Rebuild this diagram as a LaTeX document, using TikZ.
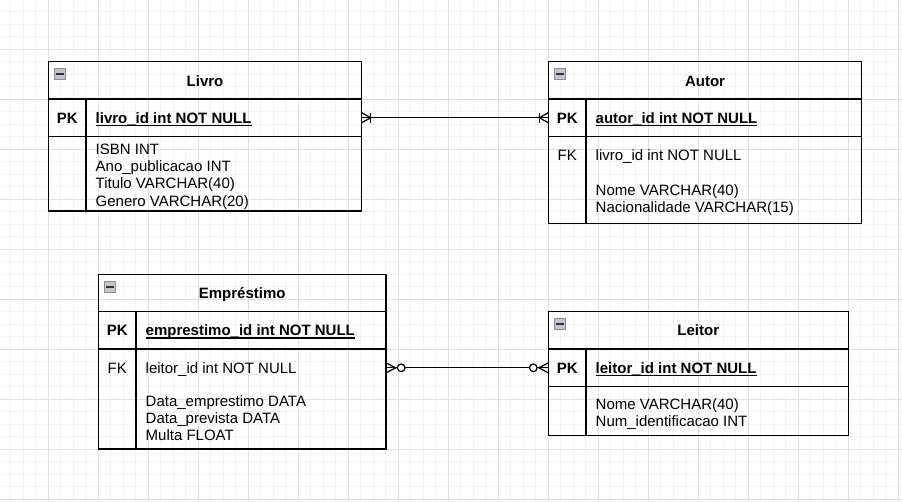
\documentclass[tikz,border=0pt]{standalone}
\usepackage{fontspec}
\setmainfont{Liberation Sans}
\definecolor{gridminor}{HTML}{F2F2F2}
\definecolor{gridmajor}{HTML}{E0E0E0}
\definecolor{iconfill}{HTML}{C2C5CD}
\definecolor{iconline}{HTML}{8A8E98}
\newcommand\pkul[1]{\setbox0\hbox{#1}\rlap{\rule[-2.8pt]{\wd0}{1.3pt}}\box0}
\tikzset{
  tbl/.style={draw=black, line width=1.25pt, inner sep=0pt, outer sep=0pt, anchor=north west},
  tblline/.style={draw=black, line width=1.25pt},
  txt/.style={inner sep=0pt, outer sep=0pt, anchor=base west, font=\fontsize{15}{18}\selectfont},
  btxt/.style={inner sep=0pt, outer sep=0pt, anchor=base west, font=\fontsize{15}{18}\selectfont\bfseries},
  ttl/.style={inner sep=0pt, outer sep=0pt, anchor=base, font=\fontsize{15}{18}\selectfont\bfseries},
  keyb/.style={inner sep=0pt, outer sep=0pt, anchor=base, font=\fontsize{15}{18}\selectfont\bfseries},
  keyn/.style={inner sep=0pt, outer sep=0pt, anchor=base, font=\fontsize{15}{18}\selectfont},
  conn/.style={draw=black, line width=1.25pt},
  iconbox/.style={fill=iconfill, draw=iconline, line width=0.8pt},
  iconbar/.style={draw=black!80, line width=1.8pt},
  ring/.style={draw=black, fill=white, line width=1.25pt}
}
\begin{document}
\begin{tikzpicture}[x=1pt, y=-1pt]
\useasboundingbox (0,0) rectangle (902,501);
\fill[white] (0,0) rectangle (902,501);
% grid
\foreach \i in {0,...,73} {
  \draw[gridminor, line width=1pt] ({-1.7+12.5*\i},0) -- ({-1.7+12.5*\i},501);
}
\foreach \j in {0,...,41} {
  \draw[gridminor, line width=1pt] (0,{-0.7+12.5*\j}) -- (902,{-0.7+12.5*\j});
}
\foreach \i in {0,...,19} {
  \draw[gridmajor, line width=1pt] ({-1.7+50*\i},0) -- ({-1.7+50*\i},501);
}
\foreach \j in {0,...,11} {
  \draw[gridmajor, line width=1pt] (0,{-0.7+50*\j}) -- (902,{-0.7+50*\j});
}

% ---------- Livro ----------
\node[tbl, minimum width=313.4pt, minimum height=149.3pt] (livro) at (48.3,61.7) {};
\node[tbl, minimum width=313.4pt, minimum height=37.5pt] (livropk) at (48.3,99) {};
\draw[tblline] ([xshift=37.7pt]livropk.north west) -- ([xshift=37.7pt]livro.south west);
\draw[iconbox] ([shift={(6.2,6.8)}]livro.north west) rectangle ++(10.6,10.6);
\draw[iconbar] ([shift={(7.8,12.1)}]livro.north west) -- ++(7.4,0);
\node[ttl] (livrot) at (205,86) {Livro};
\node[keyb] (livrok) at (67.2,123.3) {PK};
\node[btxt] (livroid) at (95.7,123.3) {\pkul{livro\_id int NOT NULL}};
\node[txt] (livrof1) at (95.7,154) {ISBN INT};
\node[txt] (livrof2) at (95.7,171.4) {Ano\_publicacao INT};
\node[txt] (livrof3) at (95.7,188.8) {Titulo VARCHAR(40)};
\node[txt] (livrof4) at (95.7,206.2) {Genero VARCHAR(20)};

% ---------- Autor ----------
\node[tbl, minimum width=313.4pt, minimum height=161.6pt] (autor) at (548.3,61.7) {};
\node[tbl, minimum width=313.4pt, minimum height=37.5pt] (autorpk) at (548.3,99) {};
\draw[tblline] ([xshift=37.7pt]autorpk.north west) -- ([xshift=37.7pt]autor.south west);
\draw[iconbox] ([shift={(6.2,6.8)}]autor.north west) rectangle ++(10.6,10.6);
\draw[iconbar] ([shift={(7.8,12.1)}]autor.north west) -- ++(7.4,0);
\node[ttl] (autort) at (705,86) {Autor};
\node[keyb] (autork) at (567.2,123.3) {PK};
\node[btxt] (autorid) at (595.7,123.3) {\pkul{autor\_id int NOT NULL}};
\node[keyn] (autorfk) at (567.2,160.3) {FK};
\node[txt] (autorf1) at (595.7,160.3) {livro\_id int NOT NULL};
\node[txt] (autorf2) at (595.7,195.3) {Nome VARCHAR(40)};
\node[txt] (autorf3) at (595.7,212.7) {Nacionalidade VARCHAR(15)};

% ---------- Emprestimo ----------
\node[tbl, minimum width=287.7pt, minimum height=174.3pt] (emp) at (98.3,274.7) {};
\node[tbl, minimum width=287.7pt, minimum height=37.7pt] (emppk) at (98.3,311.3) {};
\draw[tblline] ([xshift=37.7pt]emppk.north west) -- ([xshift=37.7pt]emp.south west);
\draw[iconbox] ([shift={(6.2,6.8)}]emp.north west) rectangle ++(10.6,10.6);
\draw[iconbar] ([shift={(7.8,12.1)}]emp.north west) -- ++(7.4,0);
\node[ttl] (empt) at (242.2,298.5) {Empréstimo};
\node[keyb] (empk) at (117.2,335.7) {PK};
\node[btxt] (empid) at (145.7,335.7) {\pkul{emprestimo\_id int NOT NULL}};
\node[keyn] (empfk) at (117.2,373.3) {FK};
\node[txt] (empf1) at (145.7,373.3) {leitor\_id int NOT NULL};
\node[txt] (empf2) at (145.7,406) {Data\_emprestimo DATA};
\node[txt] (empf3) at (145.7,423.4) {Data\_prevista DATA};
\node[txt] (empf4) at (145.7,440.8) {Multa FLOAT};

% ---------- Leitor ----------
\node[tbl, minimum width=300pt, minimum height=124pt] (leitor) at (548.3,311.7) {};
\node[tbl, minimum width=300pt, minimum height=37.7pt] (leitorpk) at (548.3,349) {};
\draw[tblline] ([xshift=37.7pt]leitorpk.north west) -- ([xshift=37.7pt]leitor.south west);
\draw[iconbox] ([shift={(6.2,6.8)}]leitor.north west) rectangle ++(10.6,10.6);
\draw[iconbar] ([shift={(7.8,12.1)}]leitor.north west) -- ++(7.4,0);
\node[ttl] (leitort) at (698.3,335.8) {Leitor};
\node[keyb] (leitork) at (567.2,373.4) {PK};
\node[btxt] (leitorid) at (595.7,373.4) {\pkul{leitor\_id int NOT NULL}};
\node[txt] (leitorf1) at (595.7,409.2) {Nome VARCHAR(40)};
\node[txt] (leitorf2) at (595.7,426.6) {Num\_identificacao INT};

% ---------- Connector Livro -- Autor (one-or-many both ends) ----------
\draw[conn] (livropk.east) -- (autorpk.west);
\draw[conn] ([yshift=5pt]livropk.east) -- ([xshift=9pt]livropk.east) -- ([yshift=-5pt]livropk.east);
\draw[conn] ([shift={(9pt,5pt)}]livropk.east) -- ([shift={(9pt,-5pt)}]livropk.east);
\draw[conn] ([yshift=5pt]autorpk.west) -- ([xshift=-9pt]autorpk.west) -- ([yshift=-5pt]autorpk.west);
\draw[conn] ([shift={(-9pt,5pt)}]autorpk.west) -- ([shift={(-9pt,-5pt)}]autorpk.west);

% ---------- Connector Emprestimo -- Leitor (zero-or-many both ends) ----------
\coordinate (empend) at (leitorpk.west -| emp.east);
\draw[conn] (empend) -- (leitorpk.west);
\draw[conn] ([yshift=5pt]empend) -- ([xshift=9.7pt]empend) -- ([yshift=-5pt]empend);
\draw[ring] ([xshift=15.2pt]empend) circle (3.8pt);
\draw[conn] ([yshift=5pt]leitorpk.west) -- ([xshift=-9.3pt]leitorpk.west) -- ([yshift=-5pt]leitorpk.west);
\draw[ring] ([xshift=-15pt]leitorpk.west) circle (3.8pt);
\end{tikzpicture}
\end{document}
